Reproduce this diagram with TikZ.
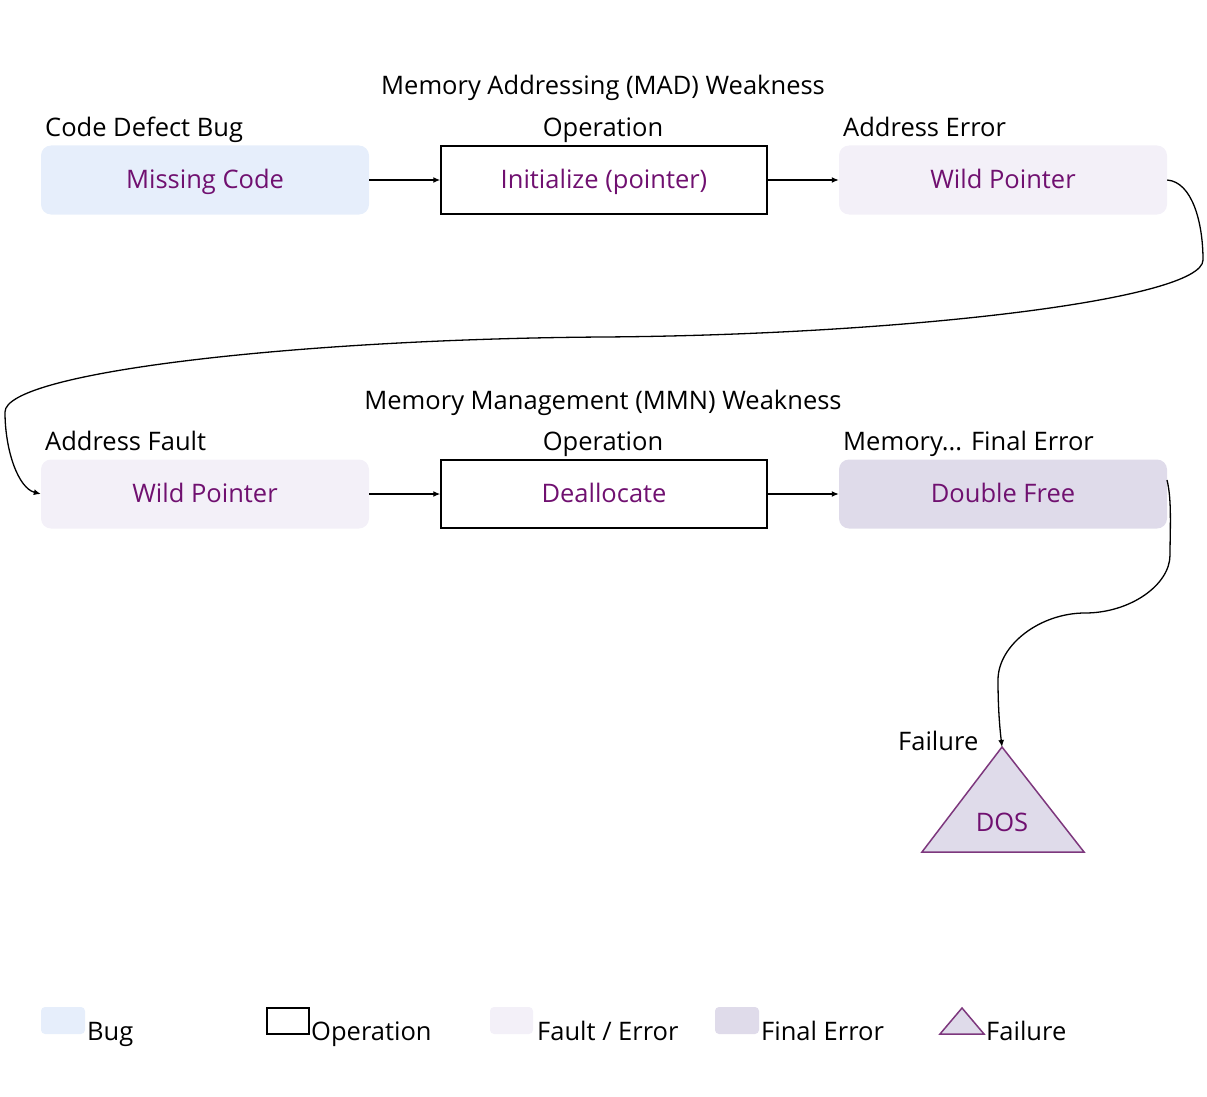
\documentclass[tikz,border=0pt]{standalone}
\usepackage{fontspec}
\setmainfont{Open Sans}
\usetikzlibrary{arrows.meta}
\definecolor{bugfill}{RGB}{230,238,251}
\definecolor{faultfill}{RGB}{243,240,248}
\definecolor{finalfill}{RGB}{223,219,234}
\definecolor{txtpurple}{RGB}{112,16,112}
\definecolor{triedge}{RGB}{125,55,125}
\tikzset{
  x=1pt, y=-1pt,
  every node/.style={font=\fontsize{25.5}{30}\selectfont},
  box/.style={minimum width=328pt, minimum height=69pt, inner sep=0pt, text=txtpurple, anchor=center, text height=17pt, text depth=0pt},
  bugbox/.style={box, fill=bugfill, rounded corners=10pt},
  faultbox/.style={box, fill=faultfill, rounded corners=10pt},
  finalbox/.style={box, fill=finalfill, rounded corners=10pt},
  opbox/.style={box, draw=black, line width=1.5pt, minimum width=326pt, minimum height=68pt},
  lbl/.style={anchor=base west, inner sep=0pt, text=black},
  clbl/.style={anchor=base, inner sep=0pt, text=black},
  conn/.style={draw=black, line width=1.3pt, -{Latex[length=7pt,width=6pt]}},
}
\begin{document}
\begin{tikzpicture}
\useasboundingbox (0,0) rectangle (1207,1097);
% titles and labels
\node[clbl] (t1) at (603,95) {Memory Addressing (MAD) Weakness};
\node[lbl] (l1) at (45,136) {Code Defect Bug};
\node[clbl] (l2) at (603,136) {Operation};
\node[lbl] (l3) at (843,136) {Address Error};
\node[clbl] (t2) at (603,409) {Memory Management (MMN) Weakness};
\node[lbl] (l4) at (45,450) {Address Fault};
\node[clbl] (l5) at (603,450) {Operation};
\node[lbl] (l6) at (843,450) {Memory... Final Error};
% row 1
\node[bugbox] (mc) at (205,180) {Missing Code};
\node[opbox] (init) at (604,180) {Initialize (pointer)};
\node[faultbox] (wp1) at (1003,180) {Wild Pointer};
% row 2
\node[faultbox] (wp2) at (205,494) {Wild Pointer};
\node[opbox] (deal) at (604,494) {Deallocate};
\node[finalbox] (df) at (1003,494) {Double Free};
% arrows
\draw[conn] (mc.east) -- (init.west);
\draw[conn] (init.east) -- (wp1.west);
\draw[conn] (deal.west -| wp2.east) -- (deal.west);
\draw[conn] (deal.east) -- (df.west);
\draw[conn] (wp1.east) .. controls (1192,182) and (1203,222) .. (1203,260)
  .. controls (1203,300) and (900,335) .. (603,337)
  .. controls (300,339) and (5,372) .. (5,412)
  .. controls (5,450) and (18,488) .. (wp2.west);
% failure triangle
\coordinate (apex) at (1002,747);
\coordinate (bl) at (922,852);
\coordinate (br) at (1084,852);
\draw[fill=finalfill, draw=triedge, line width=1.5pt] (apex) -- (br) -- (bl) -- cycle;
\node[text=txtpurple, anchor=base, inner sep=0pt] (dos) at (1002,831) {DOS};
\node[lbl] (fl) at (898,750) {Failure};
\coordinate (dfout) at (1167,480);
\draw[conn] (dfout) .. controls (1172,500) and (1170,530) .. (1170,555)
  .. controls (1170,585) and (1130,613) .. (1085,613)
  .. controls (1040,613) and (998,645) .. (998,680)
  .. controls (998,710) and (1000,730) .. (apex);
% legend
\fill[bugfill, rounded corners=4pt] (41,1007) rectangle (85,1034);
\node[lbl] (lg1) at (87,1040) {Bug};
\draw[line width=1.5pt] (267,1008) rectangle (309,1034);
\node[lbl] (lg2) at (311,1040) {Operation};
\fill[faultfill, rounded corners=4pt] (490,1007) rectangle (533,1034);
\node[lbl] (lg3) at (537,1040) {Fault / Error};
\fill[finalfill, rounded corners=4pt] (715,1007) rectangle (759,1034);
\node[lbl] (lg4) at (761,1040) {Final Error};
\draw[fill=finalfill, draw=triedge, line width=1.5pt] (962,1008) -- (984,1034) -- (940,1034) -- cycle;
\node[lbl] (lg5) at (986,1040) {Failure};
\end{tikzpicture}
\end{document}
